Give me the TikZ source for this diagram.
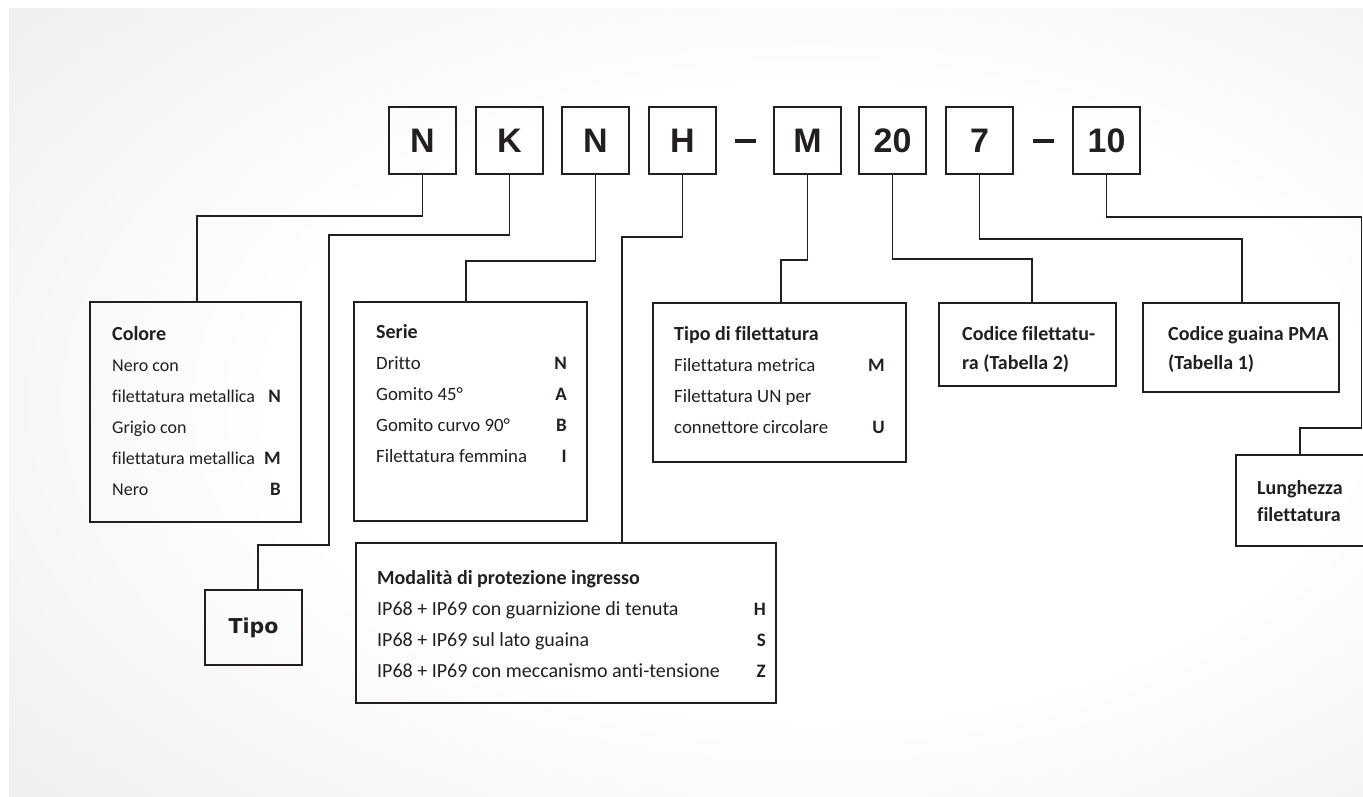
\documentclass[tikz,border=0pt]{standalone}
\usepackage{fontspec}
\setmainfont{Carlito}[Ligatures=NoCommon]
\newfontfamily\topfont{Liberation Sans}
\newfontfamily\tipofont{DejaVu Sans}
\usetikzlibrary{calc}
\definecolor{ink}{HTML}{231F20}
\definecolor{bggray}{HTML}{E2E3E5}
\pgfdeclareradialshading{bgshade}{\pgfpoint{6bp}{0bp}}{color(0bp)=(white); color(20bp)=(white); color(52bp)=(bggray); color(100bp)=(bggray)}
\tikzset{
  topbox/.style={draw=ink, line width=2.2pt, minimum width=67pt, minimum height=67pt, inner sep=0pt, text=ink, font=\topfont\bfseries\fontsize{34}{34}\selectfont},
  dashbar/.style={fill=ink, minimum width=21pt, minimum height=3.2pt, inner sep=0pt},
  box/.style={draw=ink, line width=1.8pt, inner sep=0pt},
  conn/.style={draw=ink, line width=1.5pt},
  txt/.style={anchor=base west, inner sep=0pt, text=ink, font=\fontsize{18.8}{20}\selectfont},
  smalltxt/.style={anchor=base west, inner sep=0pt, text=ink, font=\fontsize{18}{20}\selectfont},
  bigtxt/.style={anchor=base west, inner sep=0pt, text=ink, font=\fontsize{20}{22}\selectfont},
  hdr/.style={anchor=base west, inner sep=0pt, text=ink, font=\bfseries\fontsize{20}{22}\selectfont},
  code/.style={anchor=base east, inner sep=0pt, text=ink, font=\bfseries\fontsize{19}{20}\selectfont}
}
\begin{document}
\begin{tikzpicture}[x=1pt,y=-1pt]
\useasboundingbox (0,0) rectangle (1363,796);
\fill[white] (0,0) rectangle (1363,796);
\clip (0,0) rectangle (1363,796);
\shade[shading=bgshade] (9,8) rectangle (1363,796);

% top code boxes
\node[topbox] (tN)  at (422.5,140.5) {N};
\node[topbox] (tK)  at (509.5,140.5) {K};
\node[topbox] (tN2) at (595.5,140.5) {N};
\node[topbox] (tH)  at (682.5,140.5) {H};
\node[dashbar] (d1) at (745,141) {};
\node[topbox] (tM)  at (807.5,140.5) {M};
\node[topbox] (t20) at (892.5,140.5) {20};
\node[topbox] (t7)  at (979.5,140.5) {7};
\node[dashbar] (d2) at (1043,141) {};
\node[topbox] (t10) at (1106.5,140.5) {10};

% lower boxes
\node[box, minimum width=211pt, minimum height=220pt] (colore) at (195.5,412) {};
\node[box, minimum width=233pt, minimum height=219pt] (serie) at (470.5,411.5) {};
\node[box, minimum width=253pt, minimum height=159pt] (tipofil) at (779.5,382.5) {};
\node[box, minimum width=177pt, minimum height=83pt] (codfil) at (1027.5,344.5) {};
\node[box, minimum width=196pt, minimum height=89pt] (codgua) at (1241,347.5) {};
\node[box, minimum width=150pt, minimum height=91pt] (lung) at (1311,500.5) {};
\node[box, minimum width=97pt, minimum height=75pt, text=ink, font=\tipofont\bfseries\fontsize{20.5}{22}\selectfont] (tipo) at (253.5,627.5) {Tipo};
\node[box, minimum width=420pt, minimum height=160pt] (modal) at (566,623) {};

% connector turning points
\coordinate (cN) at (197,216);
\coordinate (cK1) at (329,235);
\coordinate (cK2) at (258,545);
\coordinate (cN2) at (466,261);
\coordinate (cH) at (622,237);
\coordinate (cM) at (781,260);
\coordinate (c20) at (1032,259);
\coordinate (c7) at (1242,239);
\coordinate (c10a) at (1361.5,217);
\coordinate (c10b) at (1300,428);

\draw[conn] (tN.south) |- (cN) -- (cN |- colore.north);
\draw[conn] (tK.south) |- (cK1) |- (cK2) -- (cK2 |- tipo.north);
\draw[conn] (tN2.south) |- (cN2) -- (cN2 |- serie.north);
\draw[conn] (tH.south) |- (cH) -- (cH |- modal.north);
\draw[conn] (tM.south) |- (cM) -- (cM |- tipofil.north);
\draw[conn] (t20.south) |- (c20) -- (c20 |- codfil.north);
\draw[conn] (t7.south) |- (c7) -- (c7 |- codgua.north);
\draw[conn] (t10.south) |- (c10a) |- (c10b) -- (c10b |- lung.north);

% Colore
\node[hdr] (col0) at (112,340) {Colore};
\node[smalltxt] (col1) at (112,371) {Nero con};
\node[smalltxt] (col2) at (112,402) {filettatura metallica};
\node[code] (col2c) at (281,402) {N};
\node[smalltxt] (col3) at (112,433) {Grigio con};
\node[smalltxt] (col4) at (112,464) {filettatura metallica};
\node[code] (col4c) at (281,464) {M};
\node[smalltxt] (col5) at (112,495) {Nero};
\node[code] (col5c) at (281,495) {B};

% Serie
\node[hdr] (ser0) at (376,338) {Serie};
\node[txt] (ser1) at (376,369) {Dritto};
\node[code] (ser1c) at (567,369) {N};
\node[txt] (ser2) at (376,400) {Gomito 45°};
\node[code] (ser2c) at (567,400) {A};
\node[txt] (ser3) at (376,431) {Gomito curvo 90°};
\node[code] (ser3c) at (567,431) {B};
\node[txt] (ser4) at (376,462) {Filettatura femmina};
\node[code] (ser4c) at (567,462) {I};

% Tipo di filettatura
\node[hdr] (tf0) at (674,340) {Tipo di filettatura};
\node[txt] (tf1) at (674,371) {Filettatura metrica};
\node[code] (tf1c) at (885,371) {M};
\node[txt] (tf2) at (674,402) {Filettatura UN per};
\node[txt] (tf3) at (674,433) {connettore circolare};
\node[code] (tf3c) at (885,433) {U};

% Codice filettatura
\node[hdr] (cf0) at (962,340) {Codice filettatu-};
\node[hdr] (cf1) at (962,369) {ra (Tabella 2)};

% Codice guaina
\node[hdr] (cg0) at (1168,340) {Codice guaina PMA};
\node[hdr] (cg1) at (1168,369) {(Tabella 1)};

% Lunghezza
\node[hdr] (lu0) at (1257,494) {Lunghezza};
\node[hdr] (lu1) at (1257,521) {filettatura};

% Modalita
\node[hdr] (mo0) at (377,584) {Modalità di protezione ingresso};
\node[bigtxt] (mo1) at (377,615) {IP68 + IP69 con guarnizione di tenuta};
\node[code] (mo1c) at (766,615) {H};
\node[bigtxt] (mo2) at (377,646) {IP68 + IP69 sul lato guaina};
\node[code] (mo2c) at (766,646) {S};
\node[bigtxt] (mo3) at (377,677) {IP68 + IP69 con meccanismo anti-tensione};
\node[code] (mo3c) at (766,677) {Z};
\end{tikzpicture}
\end{document}
